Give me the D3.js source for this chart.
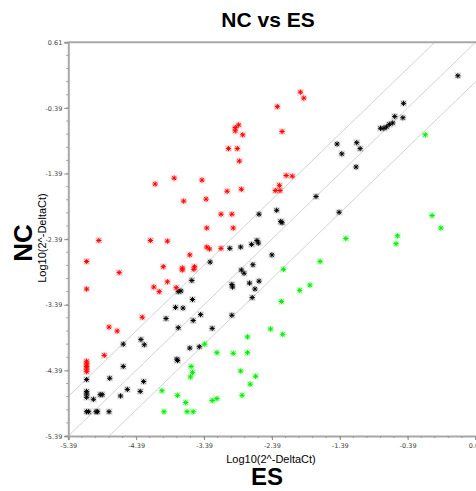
<!DOCTYPE html>
<html>
<head>
<meta charset="utf-8">
<script src="https://cdn.jsdelivr.net/npm/d3@7"></script>
<style>
html,body{margin:0;padding:0;background:#fff;}
svg{display:block;}
</style>
</head>
<body>
<svg id="chart" width="476" height="491"></svg>
<script>
// ---- data (ES = x, NC = y), Log10(2^-DeltaCt) ----
const upES = [-4.11,-4.94,-4.18,-5.12,-4.64,-5.12,-4.13,-4.05,-4.30,-4.79,-4.67,-4.86,-5.12,-5.12,-5.12,-5.12,-5.12,
  -1.97,-1.92,-2.31,-2.88,-2.93,-2.93,-2.82,-2.24,-3.03,-2.90,-2.87,-3.83,-3.42,-3.05,-2.84,-2.18,-2.09,-2.28,-2.34,-2.27,
  -3.69,-3.36,-3.14,-2.98,-3.35,-2.96,-3.93,-3.35,-3.31,-3.14,-3.60,-3.99,-3.71,-3.71,-3.53,-3.54,-3.93,-3.80];
const upNC = [-1.55,-2.41,-2.41,-2.73,-2.90,-3.15,-3.12,-3.19,-3.58,-3.73,-3.79,-4.16,-4.25,-4.29,-4.33,-4.37,-4.41,
  -0.15,-0.24,-0.37,-0.65,-0.69,-0.74,-0.80,-0.75,-1.01,-1.01,-1.20,-1.46,-1.49,-1.66,-1.63,-1.42,-1.43,-1.57,-1.65,-1.65,
  -1.81,-1.78,-2.01,-2.01,-2.22,-2.22,-2.42,-2.51,-2.54,-2.53,-2.63,-2.81,-2.83,-2.86,-2.81,-2.85,-3.04,-3.13];

const midES = [-4.58,-4.32,-4.27,-4.58,-5.12,-4.78,-4.28,-5.12,-5.12,-5.12,-5.02,-4.92,-4.89,-4.52,-4.62,-4.33,
  -5.12,-5.09,-4.98,-4.96,-4.79,
  -3.73,-3.77,-3.57,-3.30,-3.01,-2.85,-2.69,-2.61,-2.59,-2.58,-2.32,-2.26,-2.24,-1.74,-2.39,-2.84,-2.80,-2.67,-2.72,
  -2.58,-2.64,-2.98,-2.97,-3.56,-2.68,-3.81,-3.70,-3.44,-3.95,-3.55,-2.98,-3.77,-3.27,-3.60,-3.46,-3.79,-3.78,
  0.35,-0.45,-0.58,-0.46,-0.61,-0.66,-0.79,-0.74,-0.70,-1.43,-1.14,-1.09,-1.36,-1.15,-1.40];
const midNC = [-3.99,-3.92,-4.00,-4.33,-4.53,-4.51,-4.56,-4.71,-4.75,-4.80,-4.83,-4.76,-4.76,-4.68,-4.78,-4.71,
  -5.02,-5.02,-5.02,-5.02,-5.02,
  -3.18,-3.19,-3.02,-2.74,-2.53,-2.51,-2.47,-2.41,-2.45,-2.01,-1.95,-2.12,-2.14,-1.74,-2.63,-2.86,-2.91,-2.78,-3.06,
  -3.03,-3.15,-3.08,-3.12,-3.31,-3.28,-3.43,-3.44,-3.54,-3.60,-3.63,-3.55,-3.74,-3.75,-4.05,-4.03,-4.22,-4.24,
  0.10,-0.32,-0.52,-0.54,-0.62,-0.64,-0.70,-0.70,-0.68,-0.94,-0.92,-1.01,-1.09,-1.29,-1.98];

const downES = [-0.13,-0.03,0.10,-1.30,-0.54,-0.56,-1.68,-1.83,-2.22,-1.98,-2.25,-2.41,-2.23,-2.75,-3.38,-3.20,-2.96,
  -2.75,-3.58,-3.56,-3.59,-2.85,-2.63,-2.71,-4.01,-3.78,-3.66,-3.27,-3.20,-2.83,-3.98,-3.64,-3.55];
const downNC = [-0.80,-2.03,-2.22,-2.38,-2.34,-2.46,-2.73,-3.09,-2.85,-3.17,-3.34,-3.76,-3.84,-3.88,-3.99,-4.12,-4.13,
  -4.12,-4.33,-4.42,-4.49,-4.40,-4.48,-4.60,-4.70,-4.77,-4.88,-4.85,-4.82,-4.77,-5.02,-5.02,-5.02];

const tickValues = [-5.39,-4.39,-3.39,-2.39,-1.39,-0.39,0.61];
const tickLabels = ["-5.39","-4.39","-3.39","-2.39","-1.39","-0.39","0.61"];
const foldOffsets = [0, Math.log10(4), -Math.log10(4)];

// ---- chart ----
const svg = d3.select("#chart");
const L = 68.3, R = 475.5, T = 42.3, B = 436;
const x = d3.scaleLinear().domain([-5.39, 0.61]).range([L, R]);
const y = d3.scaleLinear().domain([-5.39, 0.61]).range([B, T]);
const axisCol = "#a8a8a8";
const labelCol = "#444";

svg.append("defs").append("clipPath").attr("id","clip")
  .append("rect").attr("x",L).attr("y",T).attr("width",476-L).attr("height",B-T);

// diagonal reference lines
const gLines = svg.append("g").attr("clip-path","url(#clip)");
foldOffsets.forEach(o => {
  gLines.append("line")
    .attr("x1", x(-6)).attr("y1", y(-6 + o))
    .attr("x2", x(1.5)).attr("y2", y(1.5 + o))
    .attr("stroke","#d2d2d2").attr("stroke-width",1);
});

// minor ticks
const minor = d3.range(0, 31).map(i => -5.39 + i*0.2);

// y axis
const yAxis = d3.axisLeft(y).tickValues(tickValues).tickFormat((d,i)=>tickLabels[i]).tickSize(4).tickPadding(2);
const gy = svg.append("g").attr("transform",`translate(${L},0)`).call(yAxis);
gy.select(".domain").attr("stroke",axisCol).attr("stroke-width",2);
gy.selectAll(".tick line").attr("stroke","#888");
gy.selectAll(".tick text").attr("fill",labelCol).style("font-family","DejaVu Sans").style("font-size","6.5px");
gy.selectAll(".minor").data(minor).enter().append("line")
  .attr("x1",-2).attr("x2",0).attr("y1",d=>y(d)).attr("y2",d=>y(d)).attr("stroke","#999");

// x axis
const xAxis = d3.axisBottom(x).tickValues(tickValues).tickFormat((d,i)=>tickLabels[i]).tickSize(4).tickPadding(3);
const gx = svg.append("g").attr("transform",`translate(0,${B})`).call(xAxis);
gx.select(".domain").attr("stroke",axisCol).attr("stroke-width",2);
gx.selectAll(".tick line").attr("stroke","#888");
gx.selectAll(".tick text").attr("fill",labelCol).style("font-family","DejaVu Sans").style("font-size","6.5px");
gx.selectAll(".minor").data(minor).enter().append("line")
  .attr("y1",0).attr("y2",2).attr("x1",d=>x(d)).attr("x2",d=>x(d)).attr("stroke","#999");

// top border
svg.append("line").attr("x1",L).attr("x2",476).attr("y1",T).attr("y2",T)
  .attr("stroke",axisCol).attr("stroke-width",2);

// points
const star = "M-2.6,0L2.6,0M0,-2.6L0,2.6M-1.9,-1.9L1.9,1.9M-1.9,1.9L1.9,-1.9";
function drawSeries(xs, ys, col, halo){
  const g = svg.append("g").attr("clip-path","url(#clip)");
  const pts = xs.map((v,i)=>[v, ys[i]]);
  const m = g.selectAll("g.pt").data(pts).enter().append("g")
    .attr("transform", d=>`translate(${x(d[0])},${y(d[1])})`);
  m.append("rect").attr("x",-3.5).attr("y",-3.5).attr("width",7).attr("height",7)
    .attr("fill",halo);
  m.append("path").attr("d",star).attr("stroke",col).attr("stroke-width",1).attr("fill","none");
}
drawSeries(midES, midNC, "#000", "rgba(0,0,0,0.1)");
drawSeries(upES, upNC, "#ff0000", "rgba(255,0,0,0.12)");
drawSeries(downES, downNC, "#00ee00", "rgba(0,238,0,0.14)");

// titles
svg.append("text").attr("x",268).attr("y",27).attr("text-anchor","middle")
  .style("font-family","Liberation Sans").style("font-weight","bold").style("font-size","21px")
  .text("NC vs ES");
svg.append("text").attr("transform","translate(32,243) rotate(-90)").attr("text-anchor","middle")
  .style("font-family","Liberation Sans").style("font-weight","bold").style("font-size","26px")
  .text("NC");
svg.append("text").attr("transform","translate(46,238) rotate(-90)").attr("text-anchor","middle")
  .style("font-family","Liberation Sans").style("font-size","11px")
  .text("Log10(2^-DeltaCt)");
svg.append("text").attr("x",271).attr("y",463).attr("text-anchor","middle")
  .style("font-family","Liberation Sans").style("font-size","11px")
  .text("Log10(2^-DeltaCt)");
svg.append("text").attr("x",267).attr("y",485).attr("text-anchor","middle")
  .style("font-family","Liberation Sans").style("font-weight","bold").style("font-size","24px")
  .text("ES");
</script>
</body>
</html>
